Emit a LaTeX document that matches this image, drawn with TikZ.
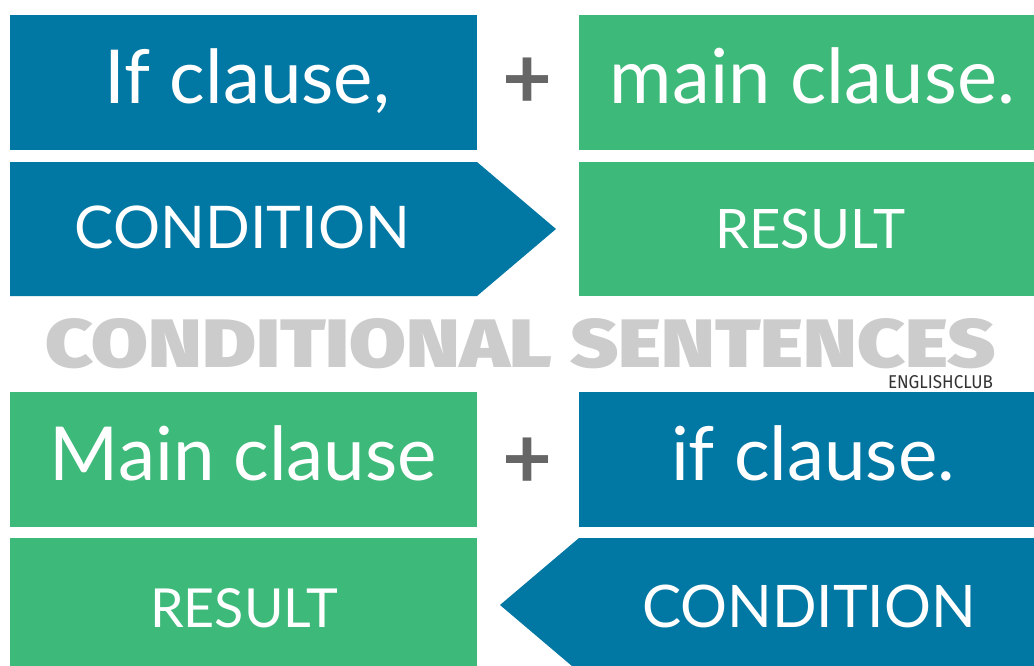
\documentclass[tikz,border=0pt]{standalone}
\usepackage{fontspec}
\usepackage{graphicx}
\setmainfont{Lato}
\newfontfamily\titlefont{Fira Sans Black}
\newfontfamily\smallfont{Fira Sans}
\definecolor{cblue}{HTML}{0177A3}
\definecolor{cgreen}{HTML}{3DB97A}
\definecolor{cplus}{HTML}{666666}
\definecolor{ctitle}{HTML}{CCCCCC}
\definecolor{cclub}{HTML}{333333}
\tikzset{
  boxblue/.style={fill=cblue, draw=none},
  boxgreen/.style={fill=cgreen, draw=none},
  wtxt/.style={text=white, anchor=base, inner sep=0pt, font=\fontsize{60}{60}\selectfont},
  plussign/.style={text=cplus, inner sep=0pt, anchor=center, font=\fontsize{60}{60}\selectfont\bfseries},
}
\begin{document}
\begin{tikzpicture}[x=1pt,y=-1pt]
\useasboundingbox (0,0) rectangle (1034,665);
\fill[white] (0,0) rectangle (1034,665);
\clip (0,0) rectangle (1034,665);
% top row
\fill[boxblue] (10,15) rectangle (477,150);
\fill[boxgreen] (579,15) rectangle (1040,150);
\fill[boxblue] (10,162) -- (477,162) -- (556,229) -- (477,296) -- (10,296) -- cycle;
\fill[boxgreen] (579,162) rectangle (1040,296);
% bottom rows
\fill[boxgreen] (10,392) rectangle (477,527);
\fill[boxblue] (579,392) rectangle (1040,527);
\fill[boxgreen] (10,538) rectangle (477,680);
\fill[boxblue] (1040,538) -- (579,538) -- (500,605) -- (579,672) -- (1040,672) -- cycle;
% texts
\node[wtxt] (ifc) at (247.5,103) {\resizebox{285pt}{!}{If clause,}};
\node[wtxt] (cond1) at (242.5,248) {\resizebox{335pt}{!}{CONDITION}};
\node[wtxt] (mainc) at (812.5,103) {\resizebox{405pt}{!}{main clause.}};
\node[wtxt] (res1) at (810,248) {\resizebox{190pt}{!}{RESULT}};
\node[wtxt] (Mainc) at (243.5,480) {\resizebox{387pt}{!}{Main clause}};
\node[wtxt] (res2) at (244,627) {\resizebox{188pt}{!}{RESULT}};
\node[wtxt] (ifc2) at (813,480) {\resizebox{284pt}{!}{if clause.}};
\node[wtxt] (cond2) at (809,627) {\resizebox{334pt}{!}{CONDITION}};
% plus signs
\node[plussign] (plus1) at (527,83) {\resizebox{50pt}{!}{+}};
\node[plussign] (plus2) at (527,463) {\resizebox{50pt}{!}{+}};
% title
\node[text=ctitle, anchor=base, inner sep=0pt] (title) at (520.5,367) {\resizebox{950pt}{49pt}{\titlefont CONDITIONAL SENTENCES}};
\node[text=cclub, anchor=base, inner sep=0pt] (club) at (940.5,388) {\resizebox{105pt}{13pt}{\smallfont ENGLISHCLUB}};
\end{tikzpicture}
\end{document}
